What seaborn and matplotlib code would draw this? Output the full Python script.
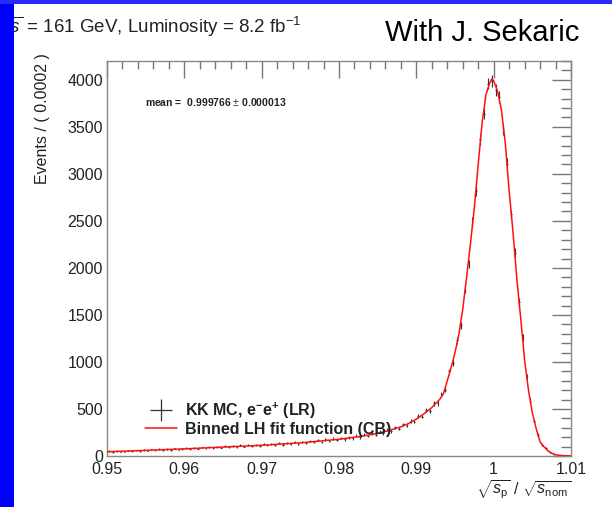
import numpy as np
import pandas as pd
import matplotlib
matplotlib.use("Agg")
import matplotlib.pyplot as plt
from matplotlib.lines import Line2D
from matplotlib.patches import Rectangle
from matplotlib.ticker import MultipleLocator
import seaborn as sns

# ---- data ----
# fitted Crystal-Ball curve (x, events per 0.0002 bin)
fit_x = [0.950, 0.955, 0.960, 0.965, 0.970, 0.975, 0.980, 0.9825, 0.985, 0.9865,
         0.988, 0.989, 0.990, 0.991, 0.992, 0.993, 0.9935, 0.994, 0.9945, 0.995,
         0.9955, 0.996, 0.9965, 0.997, 0.9975, 0.998, 0.9985, 0.999, 0.9995, 0.99977,
         1.0000, 1.0005, 1.0010, 1.0015, 1.0020, 1.0025, 1.0030, 1.0035, 1.0040, 1.0045,
         1.0050, 1.0055, 1.0060, 1.0065, 1.0070, 1.0075, 1.0080, 1.0085, 1.0090, 1.0100]
fit_y = [45, 60, 76, 95, 114, 140, 178, 205, 240, 272,
         310, 345, 392, 450, 515, 600, 660, 800, 940, 1100,
         1290, 1560, 1900, 2260, 2640, 3100, 3540, 3840, 3970, 4010,
         3990, 3880, 3680, 3330, 2820, 2380, 1880, 1460, 1020, 700,
         460, 290, 150, 100, 56, 30, 12, 8, 4, 1]

# KK MC sample (bin centres every 0.0005, first at 0.95025)
mc_first = 0.95025
mc_step = 0.0005
mc_y = [52, 41, 55, 47, 44, 58, 50, 61, 53, 66,
        57, 70, 59, 72, 62, 75, 64, 80, 68, 77,
        84, 72, 88, 79, 91, 81, 95, 86, 100, 90,
        104, 93, 108, 97, 112, 101, 116, 105, 120, 109,
        124, 112, 129, 117, 134, 122, 140, 126, 146, 131,
        152, 137, 160, 146, 168, 152, 176, 160, 185, 171,
        192, 178, 200, 189, 214, 199, 228, 212, 244, 226,
        258, 243, 281, 262, 305, 290, 335, 322, 375, 366,
        425, 420, 488, 480, 560, 560, 655, 705, 900, 990,
        1230, 1390, 1770, 2040, 2490, 2820, 3370, 3640, 3960, 3990,
        3890, 3820, 3470, 3110, 2570, 2160, 1640, 1260, 845, 590,
        368, 228, 120, 82, 40, 23, 9, 7, 3, 1]

x_ticks = [0.95, 0.96, 0.97, 0.98, 0.99, 1.00, 1.01]
x_tick_labels = ["0.95", "0.96", "0.97", "0.98", "0.99", "1", "1.01"]
y_ticks = [0, 500, 1000, 1500, 2000, 2500, 3000, 3500, 4000]

mc_x = mc_first + mc_step * np.arange(len(mc_y))
mc_err = np.sqrt(np.array(mc_y, dtype=float))

fit_df = pd.DataFrame({"x": fit_x, "y": fit_y})

sns.set_style("white")
plt.rcParams["font.family"] = ["Liberation Sans", "DejaVu Sans"]
plt.rcParams["mathtext.fontset"] = "custom"
plt.rcParams["mathtext.rm"] = "Liberation Sans"
plt.rcParams["mathtext.it"] = "Liberation Sans:italic"
plt.rcParams["mathtext.bf"] = "Liberation Sans:bold"

W, H = 612, 507
fig = plt.figure(figsize=(6.12, 5.07), dpi=100)
fig.patch.set_facecolor("white")
ax = fig.add_axes([107/W, 1-456/H, (571-107)/W, (456-61)/H])

# MC points with error bars
ax.errorbar(mc_x, mc_y, yerr=mc_err, xerr=0.0001, fmt="none",
            ecolor="#333333", elinewidth=0.8, zorder=2)
# fit curve
sns.lineplot(data=fit_df, x="x", y="y", ax=ax, color="#ff1010",
             linewidth=1.1, zorder=3, legend=False)

ax.set_xlim(0.95, 1.01)
ax.set_ylim(0, 4200)
ax.set_xticks(x_ticks)
ax.set_xticklabels(x_tick_labels)
ax.set_yticks(y_ticks)
ax.xaxis.set_minor_locator(MultipleLocator(0.002))
ax.yaxis.set_minor_locator(MultipleLocator(100))
ax.tick_params(axis="both", which="both", direction="in", top=True, right=True,
               colors="#777777", labelcolor="#222222", labelsize=11.5)
ax.tick_params(axis="x", which="major", length=12, width=1.0, pad=4)
ax.tick_params(axis="x", which="minor", length=6, width=1.0)
ax.tick_params(axis="y", which="major", length=14, width=1.0, pad=3)
ax.tick_params(axis="y", which="minor", length=7, width=1.0)
for s in ax.spines.values():
    s.set_color("#888888")
    s.set_linewidth(1.0)

ax.set_xlabel(r"$\sqrt{s_{\mathrm{p}}}\ /\ \sqrt{s_{\mathrm{nom}}}$", fontsize=11.5,
              color="#222222")
ax.xaxis.set_label_coords(1.0, -0.055)
ax.xaxis.label.set_horizontalalignment("right")
ax.xaxis.label.set_verticalalignment("top")
ax.set_ylabel("Events / ( 0.0002 )", fontsize=11.5, color="#222222")
ax.yaxis.set_label_coords(-0.14, 1.02)
ax.yaxis.label.set_verticalalignment("center")
ax.yaxis.label.set_horizontalalignment("right")

fig.text(145/W, 1-102/H, r"mean =  0.999766 $\pm$ 0.000013",
         fontsize=7.5, fontweight="bold", color="#222222", va="center", ha="left")

# legend
h1 = Line2D([], [], color="#333333", marker="+", markersize=16, markeredgewidth=0.9,
            linestyle="none")
h2 = Line2D([], [], color="#ff1010", linewidth=1.1)
leg = ax.legend([h1, h2],
                [r"KK MC, e$^{\mathbf{-}}$e$^{\mathbf{+}}$ (LR)", "Binned LH fit function (CB)"],
                loc="upper left", bbox_to_anchor=(0.065, 0.16), frameon=False,
                borderpad=0, handlelength=2.0, handletextpad=0.5, labelspacing=0.05,
                prop={"weight": "bold", "size": 11.5})
for t in leg.get_texts():
    t.set_color("#222222")

# header texts
fig.text(-5/W, 1-27/H, r"$\sqrt{s}$ = 161 GeV, Luminosity = 8.2 fb$^{-1}$",
         fontsize=13.5, color="#222222", va="center", ha="left")
fig.text(385/W, 1-33/H, "With J. Sekaric", fontsize=21, color="black",
         va="center", ha="left")

# blue slide frame
fig.patches.append(Rectangle((0, 0), 14/W, 1, transform=fig.transFigure,
                             facecolor="#0000ff", edgecolor="none", zorder=10))
fig.patches.append(Rectangle((0, 1-4/H), 1, 4/H, transform=fig.transFigure,
                             facecolor="#2a2aff", edgecolor="none", zorder=10))

fig.savefig("out.png", dpi=100, facecolor="white")
